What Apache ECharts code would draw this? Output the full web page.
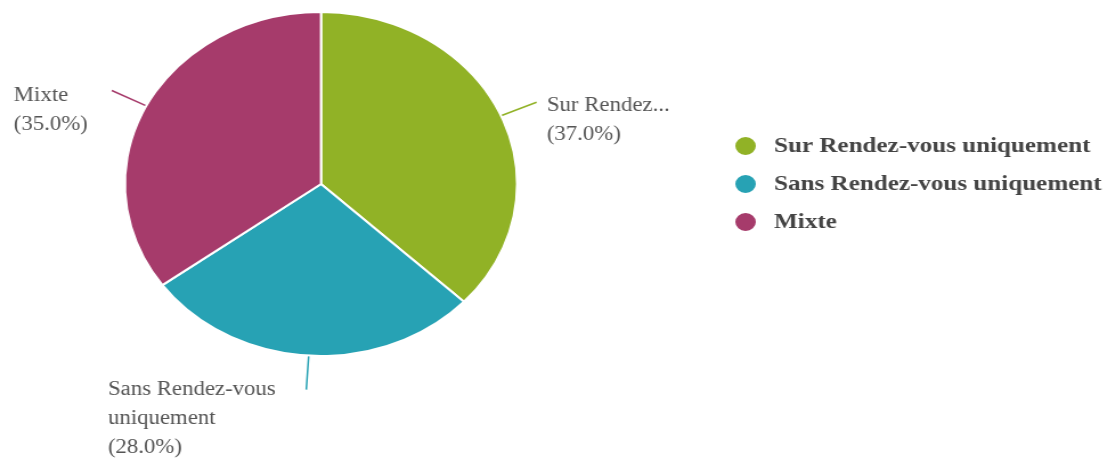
<!DOCTYPE html>
<html>
<head>
<meta charset="utf-8">
<script src="https://cdn.jsdelivr.net/npm/echarts@6/dist/echarts.min.js"></script>
<style>
  html, body { margin: 0; padding: 0; background: #fff; overflow: hidden; }
  #wrap { width: 1116px; height: 459px; overflow: hidden; }
  #chart { width: 979px; height: 459px; transform: scaleX(1.14); transform-origin: 0 0; }
</style>
</head>
<body>
<div id="wrap"><div id="chart"></div></div>
<script>
const categories = ['Sur Rendez-vous uniquement', 'Sans Rendez-vous uniquement', 'Mixte'];
const values = [37, 28, 35];
const labelTexts = [['Sur Rendez...'], ['Sans Rendez-vous', 'uniquement'], ['Mixte']];
const colors = ['#91b226', '#27a2b4', '#a63b6b'];

const FONT = "'Liberation Serif', 'DejaVu Serif', serif";
const labelPads = [[37, 0, 0, 0], [58, 0, 0, 0], [39, 0, 0, 0]];
const richWidths = [null, 165, 77];

const rich = {};
richWidths.forEach(function (w, i) {
  const s = { fontSize: 20, lineHeight: 29, color: '#555', fontFamily: FONT, align: 'left' };
  if (w) s.width = w;
  rich['s' + i] = s;
});

const chart = echarts.init(document.getElementById('chart'), null, { renderer: 'canvas' });
chart.setOption({
  animation: false,
  color: colors,
  legend: {
    orient: 'vertical',
    left: 638,
    top: 130,
    icon: 'circle',
    itemWidth: 20,
    itemHeight: 20,
    itemGap: 16,
    data: categories,
    textStyle: {
      fontFamily: FONT,
      fontSize: 22,
      fontWeight: 'bold',
      color: '#444',
      lineHeight: 22,
      padding: [0, 0, 0, 10]
    }
  },
  series: [{
    type: 'pie',
    center: [281.6, 184],
    radius: 172,
    startAngle: 90,
    clockwise: true,
    avoidLabelOverlap: false,
    itemStyle: { borderColor: '#fff', borderWidth: 2 },
    label: {
      show: true,
      position: 'outside',
      distanceToLabelLine: 9,
      formatter: function (p) {
        const i = p.dataIndex;
        const lines = labelTexts[i].concat(['(' + p.percent.toFixed(1) + '%)']);
        return lines.map(function (l) { return '{s' + i + '|' + l + '}'; }).join('\n');
      },
      rich: rich
    },
    labelLine: { show: true, length: 34, length2: 0, smooth: false, lineStyle: { width: 1.5 } },
    data: categories.map(function (c, i) {
      return { name: c, value: values[i], label: { padding: labelPads[i] } };
    })
  }]
});
</script>
</body>
</html>
